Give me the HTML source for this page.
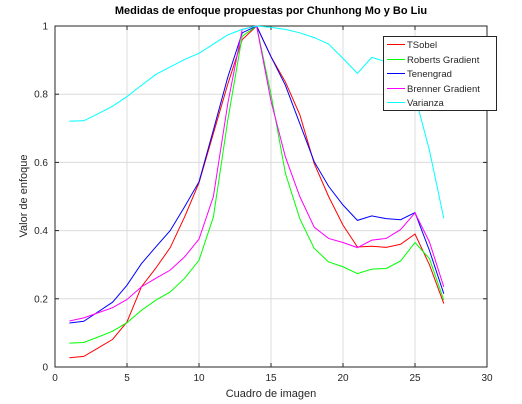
<!DOCTYPE html>
<html><head><meta charset="utf-8"><style>
body{margin:0;background:#fff;}
svg{font-family:"Liberation Sans",sans-serif;display:block;}
</style></head><body>
<svg id="chart" width="522" height="404"></svg>
<script>
const frames=[1,2,3,4,5,6,7,8,9,10,11,12,13,14,15,16,17,18,19,20,21,22,23,24,25,26,27];
const tsobel=[0.027,0.031,0.056,0.081,0.132,0.235,0.29,0.35,0.44,0.54,0.685,0.83,0.96,1,0.91,0.836,0.74,0.597,0.5,0.416,0.352,0.354,0.351,0.36,0.39,0.3,0.186];
const roberts=[0.07,0.072,0.088,0.105,0.13,0.166,0.196,0.22,0.26,0.313,0.44,0.724,0.97,1,0.8,0.568,0.435,0.348,0.308,0.294,0.274,0.287,0.289,0.311,0.365,0.318,0.196];
const tenengrad=[0.129,0.134,0.162,0.19,0.24,0.303,0.352,0.4,0.47,0.543,0.695,0.85,0.98,1,0.91,0.826,0.714,0.602,0.53,0.475,0.43,0.443,0.435,0.432,0.453,0.342,0.215];
const brenner=[0.135,0.144,0.159,0.174,0.198,0.235,0.26,0.284,0.323,0.375,0.5,0.773,0.99,1,0.78,0.616,0.5,0.41,0.377,0.365,0.35,0.372,0.377,0.403,0.452,0.367,0.235];
const varianza=[0.721,0.722,0.743,0.765,0.793,0.826,0.858,0.88,0.902,0.92,0.947,0.974,0.99,1,0.996,0.99,0.98,0.966,0.947,0.905,0.861,0.908,0.895,0.86,0.795,0.636,0.436];
const seriesNames=["TSobel","Roberts Gradient","Tenengrad","Brenner Gradient","Varianza"];
const seriesColors=["#ff0000","#00ff00","#0000ff","#ff00ff","#00ffff"];
const xTicks=[0,5,10,15,20,25,30];
const yTicks=[0,0.2,0.4,0.6,0.8,1];
const yTickLabels=["0","0.2","0.4","0.6","0.8","1"];

const NS="http://www.w3.org/2000/svg";
const svg=document.getElementById('chart');
const L=55,R=487,T=26,B=367;
const sx=v=>L+(v-0)/30*(R-L);
const sy=v=>B-v*(B-T);
function mk(tag,attrs,parent){const e=document.createElementNS(NS,tag);for(const k in attrs)e.setAttribute(k,attrs[k]);(parent||svg).appendChild(e);return e;}

const grid=mk('g',{});


xTicks.forEach(t=>{if(t>0&&t<30)mk('line',{x1:sx(t),x2:sx(t),y1:T,y2:B,stroke:'#dcdcdc','stroke-width':1},grid);});
yTicks.forEach(t=>{if(t>0&&t<1)mk('line',{x1:L,x2:R,y1:sy(t),y2:sy(t),stroke:'#dcdcdc','stroke-width':1},grid);});

const axes=mk('g',{});


mk('rect',{x:L,y:T,width:R-L,height:B-T,fill:'none',stroke:'#262626','stroke-width':1},axes);
xTicks.forEach(t=>{
 mk('line',{x1:sx(t),x2:sx(t),y1:B,y2:B-4,stroke:'#262626'},axes);
 mk('line',{x1:sx(t),x2:sx(t),y1:T,y2:T+4,stroke:'#262626'},axes);
 const tx=mk('text',{x:sx(t),y:B+14,'font-size':10,'text-anchor':'middle',fill:'#262626'},axes);
 tx.textContent=t;
 
 
});
yTicks.forEach((t,i)=>{
 mk('line',{x1:L,x2:L+4,y1:sy(t),y2:sy(t),stroke:'#262626'},axes);
 mk('line',{x1:R,x2:R-4,y1:sy(t),y2:sy(t),stroke:'#262626'},axes);
 const tx=mk('text',{x:L-7,y:sy(t)+3.5,'font-size':10,'text-anchor':'end',fill:'#262626'},axes);
 tx.textContent=yTickLabels[i];
 
 
});

const title=mk('text',{x:271,y:14,'font-size':11,'font-weight':'bold','text-anchor':'middle',fill:'#000'});
title.textContent='Medidas de enfoque propuestas por Chunhong Mo y Bo Liu';


const xl=mk('text',{x:271,y:397,'font-size':11,'text-anchor':'middle',fill:'#262626'});
xl.textContent='Cuadro de imagen';


const yl=mk('text',{x:0,y:0,'font-size':11,'text-anchor':'middle',fill:'#262626',transform:'translate(27,196) rotate(-90)'});
yl.textContent='Valor de enfoque';



const data=[tsobel,roberts,tenengrad,brenner,varianza];
const slugs=['tsobel','roberts-gradient','tenengrad','brenner-gradient','varianza'];
data.forEach((s,i)=>{
 const p=mk('polyline',{points:s.map((v,j)=>sx(frames[j])+','+sy(v)).join(' '),fill:'none',stroke:seriesColors[i],'stroke-width':1});
 
 
});

const lg=mk('g',{});


mk('rect',{x:383.5,y:36.5,width:113,height:74,fill:'#fff',stroke:'#262626','stroke-width':1},lg);
seriesNames.forEach((n,i)=>{
 const y=Math.round(44+i*14.5)+0.5;
 const ent=mk('g',{},lg);
 
 
 mk('line',{x1:387,x2:405,y1:y,y2:y,stroke:seriesColors[i],'stroke-width':1},ent);
 const t=mk('text',{x:407,y:y+3.5,'font-size':9.5,fill:'#262626'},ent);
 t.textContent=n;
});
</script>
</body></html>
